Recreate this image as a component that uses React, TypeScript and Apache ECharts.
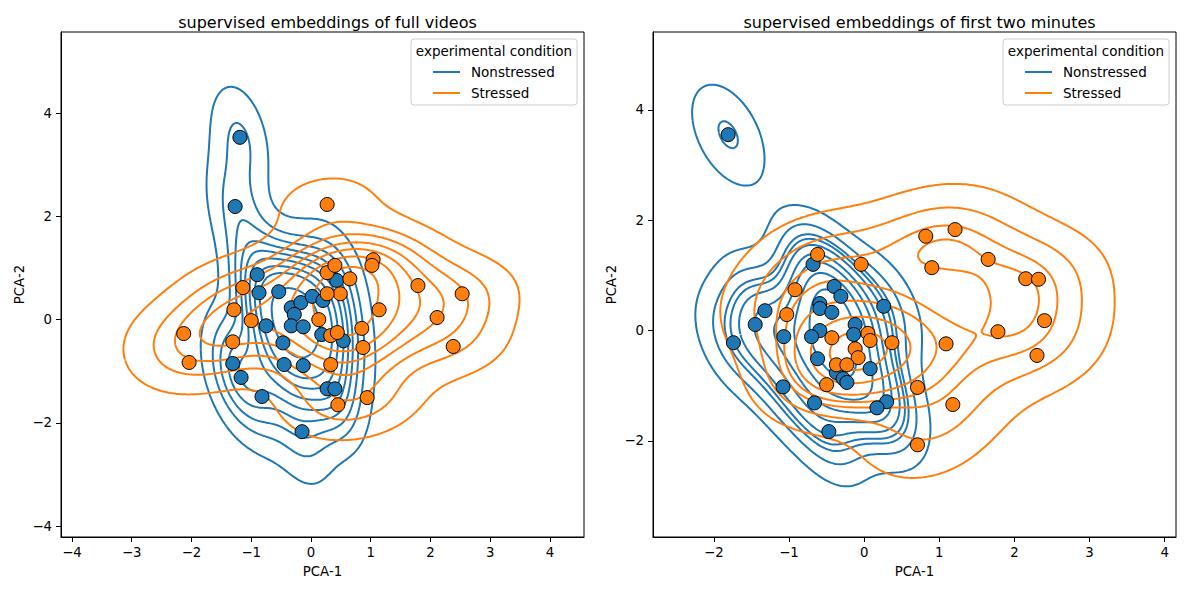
import React, { useEffect, useRef } from "react";
import * as echarts from "echarts";

// ---------------- data ----------------
const fullNonstressed: [number, number][] = [
  [-1.19, 3.53], [-1.27, 2.19], [-0.9, 0.87], [-0.87, 0.52], [-0.54, 0.54],
  [-0.75, -0.12], [-0.33, 0.23], [-0.17, 0.33], [0.02, 0.45], [0.2, 0.37],
  [-0.28, 0.1], [-0.33, -0.12], [-0.13, -0.14], [0.18, -0.29], [0.43, 0.76],
  [0.54, -0.41], [-0.47, -0.45], [-1.31, -0.85], [-1.17, -1.12], [-0.82, -1.49],
  [-0.45, -0.87], [-0.13, -0.89], [0.27, -1.34], [0.4, -1.34], [-0.15, -2.17],
];
const fullStressed: [number, number][] = [
  [0.27, 2.23], [-1.14, 0.62], [-1.29, 0.19], [-1.0, -0.02], [-2.13, -0.27],
  [-2.04, -0.83], [-1.31, -0.43], [0.27, 0.91], [0.4, 1.05], [0.65, 0.79],
  [1.04, 1.16], [1.02, 1.05], [0.49, 0.5], [0.27, 0.5], [1.79, 0.66],
  [2.53, 0.5], [1.14, 0.19], [2.11, 0.04], [0.85, -0.17], [0.13, 0.0],
  [0.33, -0.31], [0.44, -0.25], [0.33, -0.87], [0.87, -0.54], [2.38, -0.52],
  [0.94, -1.51], [0.45, -1.65],
];
const firstNonstressed: [number, number][] = [
  [-1.81, 3.55], [-1.74, -0.22], [-1.45, 0.11], [-1.32, 0.36],
  [-1.07, -0.11], [-1.08, -1.02], [-0.68, 1.2], [-0.4, 0.8], [-0.31, 0.62],
  [-0.59, 0.49], [-0.59, 0.4], [-0.43, 0.33], [-0.59, 0.0], [-0.7, -0.11],
  [-0.12, 0.11], [-0.14, -0.07], [-0.62, -0.51], [-0.37, -0.76], [-0.28, -0.87],
  [-0.23, -0.94], [-0.66, -1.31], [-0.47, -1.83], [0.08, -0.69], [0.26, 0.44],
  [0.3, -1.29], [0.17, -1.4],
];
const firstStressed: [number, number][] = [
  [-0.62, 1.38], [-0.04, 1.2], [-0.92, 0.74], [-1.03, 0.29], [-0.43, -0.13],
  [0.05, -0.05], [0.08, -0.18], [0.37, -0.22], [-0.12, -0.33], [-0.08, -0.49],
  [-0.37, -0.62], [-0.23, -0.62], [-0.5, -0.98], [0.71, -1.03], [1.18, -1.34],
  [0.71, -2.07], [0.82, 1.71], [1.21, 1.83], [0.9, 1.14], [1.65, 1.29],
  [2.15, 0.94], [2.32, 0.93], [2.4, 0.18], [1.78, -0.02], [1.09, -0.24],
  [2.3, -0.45],
];

const panelTitles = [
  "supervised embeddings of full videos",
  "supervised embeddings of first two minutes",
];
const hueLabels = ["Nonstressed", "Stressed"];
const legendTitle = "experimental condition";
const xAxisLabel = "PCA-1";
const yAxisLabel = "PCA-2";
const leftXTicks = [-4, -3, -2, -1, 0, 1, 2, 3, 4];
const leftYTicks = [-4, -2, 0, 2, 4];
const rightXTicks = [-2, -1, 0, 1, 2, 3, 4];
const rightYTicks = [-2, 0, 2, 4];

// ---------------- style / layout ----------------
const COLORS = ["#1f77b4", "#ff7f0e"];
const FONT = "DejaVu Sans";
const panels = [
  { left: 61, top: 32, width: 523, height: 505, xr: [-4.184, 4.569], yr: [-4.21, 5.57], xt: leftXTicks, yt: leftYTicks, groups: [fullNonstressed, fullStressed] },
  { left: 653, top: 32, width: 523, height: 505, xr: [-2.81, 4.15], yr: [-3.74, 5.41], xt: rightXTicks, yt: rightYTicks, groups: [firstNonstressed, firstStressed] },
];

// ---------------- KDE (seaborn-like: scott bw, cut=3, gridsize=200) ----------------
type Grid = { xs: number[]; ys: number[]; z: Float64Array };

function kdeGrid(pts: [number, number][], weight: number, gridsize = 200, cut = 3): Grid {
  const n = pts.length;
  let mx = 0, my = 0;
  pts.forEach(([x, y]) => { mx += x; my += y; });
  mx /= n; my /= n;
  let sxx = 0, syy = 0, sxy = 0;
  pts.forEach(([x, y]) => {
    sxx += (x - mx) * (x - mx);
    syy += (y - my) * (y - my);
    sxy += (x - mx) * (y - my);
  });
  sxx /= n - 1; syy /= n - 1; sxy /= n - 1;
  const f = Math.pow(n, -1 / 6);
  const cxx = sxx * f * f, cyy = syy * f * f, cxy = sxy * f * f;
  const det = cxx * cyy - cxy * cxy;
  const ixx = cyy / det, iyy = cxx / det, ixy = -cxy / det;
  const norm = (weight / n) / (2 * Math.PI * Math.sqrt(det));
  const bwx = Math.sqrt(cxx), bwy = Math.sqrt(cyy);
  const xsArr = pts.map((p) => p[0]), ysArr = pts.map((p) => p[1]);
  const x0 = Math.min(...xsArr) - cut * bwx, x1 = Math.max(...xsArr) + cut * bwx;
  const y0 = Math.min(...ysArr) - cut * bwy, y1 = Math.max(...ysArr) + cut * bwy;
  const xs: number[] = [], ys: number[] = [];
  for (let i = 0; i < gridsize; i++) {
    xs.push(x0 + ((x1 - x0) * i) / (gridsize - 1));
    ys.push(y0 + ((y1 - y0) * i) / (gridsize - 1));
  }
  const z = new Float64Array(gridsize * gridsize);
  for (let i = 0; i < gridsize; i++) {
    for (let j = 0; j < gridsize; j++) {
      let s = 0;
      for (let k = 0; k < n; k++) {
        const dx = xs[i] - pts[k][0], dy = ys[j] - pts[k][1];
        s += Math.exp(-0.5 * (ixx * dx * dx + 2 * ixy * dx * dy + iyy * dy * dy));
      }
      z[i * gridsize + j] = s * norm;
    }
  }
  return { xs, ys, z };
}

function isoLevels(grids: Grid[], count = 10, thresh = 0.05): number[] {
  const vals: number[] = [];
  grids.forEach((g) => g.z.forEach((v) => vals.push(v)));
  vals.sort((a, b) => b - a);
  const total = vals.reduce((a, b) => a + b, 0);
  const cum: number[] = [];
  let c = 0;
  for (const v of vals) { c += v; cum.push(c / total); }
  const levels: number[] = [];
  for (let i = 0; i < count; i++) {
    const iso = thresh + ((1 - thresh) * i) / (count - 1);
    const target = 1 - iso;
    let lo = 0, hi = cum.length;
    while (lo < hi) { const m = (lo + hi) >> 1; if (cum[m] < target) lo = m + 1; else hi = m; }
    levels.push(vals[Math.min(lo, vals.length - 1)]);
  }
  return levels;
}

function contourLines(g: Grid, lv: number): [number, number][][] {
  const { xs, ys, z } = g;
  const nx = xs.length, ny = ys.length;
  const at = (i: number, j: number) => z[i * ny + j];
  const pos = new Map<number, [number, number]>();
  const adj = new Map<number, number[]>();
  const hKey = (i: number, j: number) => (i * ny + j) * 2;
  const vKey = (i: number, j: number) => (i * ny + j) * 2 + 1;
  const ensure = (key: number) => {
    if (pos.has(key)) return;
    const idx = Math.floor(key / 2), i = Math.floor(idx / ny), j = idx % ny;
    if (key % 2 === 0) {
      const a = at(i, j), b = at(i + 1, j), t = (lv - a) / (b - a);
      pos.set(key, [xs[i] + t * (xs[i + 1] - xs[i]), ys[j]]);
    } else {
      const a = at(i, j), b = at(i, j + 1), t = (lv - a) / (b - a);
      pos.set(key, [xs[i], ys[j] + t * (ys[j + 1] - ys[j])]);
    }
  };
  const link = (a: number, b: number) => {
    ensure(a); ensure(b);
    if (!adj.has(a)) adj.set(a, []);
    if (!adj.has(b)) adj.set(b, []);
    adj.get(a)!.push(b); adj.get(b)!.push(a);
  };
  for (let i = 0; i < nx - 1; i++) {
    for (let j = 0; j < ny - 1; j++) {
      const v0 = at(i, j), v1 = at(i + 1, j), v2 = at(i + 1, j + 1), v3 = at(i, j + 1);
      const code = (v0 > lv ? 1 : 0) | (v1 > lv ? 2 : 0) | (v2 > lv ? 4 : 0) | (v3 > lv ? 8 : 0);
      if (code === 0 || code === 15) continue;
      const B = hKey(i, j), R = vKey(i + 1, j), T = hKey(i, j + 1), L = vKey(i, j);
      const cen = (v0 + v1 + v2 + v3) / 4;
      switch (code) {
        case 1: case 14: link(L, B); break;
        case 2: case 13: link(B, R); break;
        case 3: case 12: link(L, R); break;
        case 4: case 11: link(R, T); break;
        case 6: case 9: link(B, T); break;
        case 7: case 8: link(L, T); break;
        case 5: if (cen > lv) { link(B, R); link(L, T); } else { link(L, B); link(R, T); } break;
        case 10: if (cen > lv) { link(L, B); link(R, T); } else { link(B, R); link(L, T); } break;
      }
    }
  }
  const visited = new Set<number>();
  const lines: [number, number][][] = [];
  const walk = (start: number) => {
    const line: [number, number][] = [pos.get(start)!];
    visited.add(start);
    let cur = start;
    for (;;) {
      const nb = adj.get(cur)!.find((k) => !visited.has(k));
      if (nb === undefined) {
        if (line.length > 2 && adj.get(cur)!.includes(start)) line.push(pos.get(start)!);
        break;
      }
      visited.add(nb);
      line.push(pos.get(nb)!);
      cur = nb;
    }
    return line;
  };
  adj.forEach((nb, k) => { if (nb.length === 1 && !visited.has(k)) lines.push(walk(k)); });
  adj.forEach((_nb, k) => { if (!visited.has(k)) lines.push(walk(k)); });
  return lines;
}

const fmt = (v: number) => (v < 0 ? "\u2212" + Math.abs(v) : String(v));

function buildOption() {
  const series: any[] = [];
  const graphic: any[] = [];
  panels.forEach((p, pi) => {
    const total = p.groups.reduce((a, g) => a + g.length, 0);
    const grids = p.groups.map((g) => kdeGrid(g, g.length / total));
    const levels = isoLevels(grids);
    p.groups.forEach((_g, h) => {
      const grid = grids[h];
      let zmax = 0;
      grid.z.forEach((v) => { if (v > zmax) zmax = v; });
      levels.forEach((lv) => {
        if (lv >= zmax) return;
        contourLines(grid, lv).forEach((line) => {
          series.push({
            type: "line",
            name: hueLabels[h],
            xAxisIndex: pi,
            yAxisIndex: pi,
            data: line,
            showSymbol: false,
            symbol: "none",
            silent: true,
            lineStyle: { color: COLORS[h], width: 2 },
            itemStyle: { color: COLORS[h] },
            z: 2,
          });
        });
      });
    });
    p.groups.forEach((g, h) => {
      series.push({
        type: "scatter",
        name: hueLabels[h] + " points",
        xAxisIndex: pi,
        yAxisIndex: pi,
        data: g,
        symbolSize: 14,
        silent: true,
        itemStyle: { color: COLORS[h], borderColor: "#000", borderWidth: 1, opacity: 1 },
        z: 3,
      });
    });

    // legend (drawn like matplotlib's)
    const right = p.left + p.width - 7;
    const bw = 166, bh = 66;
    const bx = right - bw, by = 39;
    const elems: any[] = [
      { type: "rect", shape: { x: bx, y: by, width: bw, height: bh, r: 3 }, style: { fill: "rgba(255,255,255,0.8)", stroke: "#cccccc", lineWidth: 1 } },
      { type: "text", x: bx + bw / 2, y: by + 12, style: { text: legendTitle, fontSize: 13.5, fontFamily: FONT, fill: "#000", align: "center", verticalAlign: "middle" } },
    ];
    hueLabels.forEach((lab, h) => {
      const yy = by + 33 + h * 21;
      const hx = bx + 22;
      elems.push({ type: "line", shape: { x1: hx, y1: yy, x2: hx + 27, y2: yy }, style: { stroke: COLORS[h], lineWidth: 2 } });
      elems.push({ type: "text", x: hx + 38, y: yy, style: { text: lab, fontSize: 13.5, fontFamily: FONT, fill: "#000", align: "left", verticalAlign: "middle" } });
    });
    graphic.push({ type: "group", z: 100, children: elems });
  });

  return {
    animation: false,
    backgroundColor: "#fff",
    textStyle: { fontFamily: FONT },
    title: panels.map((p, i) => ({
      text: panelTitles[i],
      left: p.left + p.width / 2,
      textAlign: "center",
      top: 9,
      textStyle: { fontSize: 16, fontWeight: "normal", color: "#000", fontFamily: FONT },
    })),
    grid: panels.map((p) => ({
      left: p.left, top: p.top, width: p.width, height: p.height,
      show: true, borderColor: "#000", borderWidth: 1, backgroundColor: "transparent",
    })),
    xAxis: panels.map((p, i) => ({
      type: "value",
      gridIndex: i,
      min: p.xr[0],
      max: p.xr[1],
      name: xAxisLabel,
      nameLocation: "middle",
      nameGap: 28,
      nameTextStyle: { fontSize: 13.3, color: "#000", fontFamily: FONT },
      axisLine: { show: true, onZero: false, lineStyle: { color: "#000", width: 1 } },
      axisTick: { show: true, length: 5, customValues: p.xt, lineStyle: { color: "#000", width: 1 } },
      axisLabel: { show: true, customValues: p.xt, margin: 9, fontSize: 13.3, color: "#000", fontFamily: FONT, formatter: fmt },
      splitLine: { show: false },
    })),
    yAxis: panels.map((p, i) => ({
      type: "value",
      gridIndex: i,
      min: p.yr[0],
      max: p.yr[1],
      name: yAxisLabel,
      nameLocation: "middle",
      nameGap: 35,
      nameRotate: 90,
      nameTextStyle: { fontSize: 13.3, color: "#000", fontFamily: FONT },
      axisLine: { show: true, onZero: false, lineStyle: { color: "#000", width: 1 } },
      axisTick: { show: true, length: 5, customValues: p.yt, lineStyle: { color: "#000", width: 1 } },
      axisLabel: { show: true, customValues: p.yt, margin: 9, fontSize: 13.3, color: "#000", fontFamily: FONT, formatter: fmt },
      splitLine: { show: false },
    })),
    graphic,
    series,
  };
}

export default function App() {
  const ref = useRef<HTMLDivElement>(null);
  useEffect(() => {
    document.body.style.margin = "0";
    const chart = echarts.init(ref.current!, null, { renderer: "svg" });
    chart.setOption(buildOption() as any);
    return () => chart.dispose();
  }, []);
  return <div ref={ref} style={{ width: 1189, height: 590 }} />;
}
